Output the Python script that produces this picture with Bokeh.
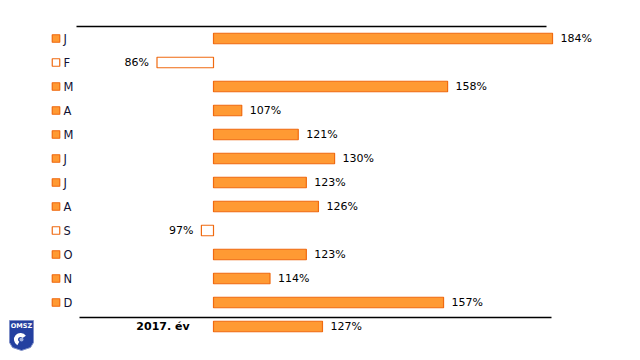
from bokeh.plotting import figure
from bokeh.models import Range1d, ColumnDataSource
from bokeh.core.properties import value
from bokeh.embed import file_html
from bokeh.resources import INLINE

# ---- data ----
months = ["J", "F", "M", "A", "M", "J", "J", "A", "S", "O", "N", "D"]
month_values = [184, 86, 158, 107, 121, 130, 123, 126, 97, 123, 114, 157]
year_label = "2017. év"
year_value = 127
base = 100

W, H = 624, 352
SCALE = 4.036          # px per percent
X100 = 213             # pixel of the 100% baseline
ROW0, ROWH = 38, 24    # pixel of first row, row spacing

x_start = base - X100 / SCALE
x_end = x_start + W / SCALE
y_bottom = (H - ROW0) / ROWH
y_top = -ROW0 / ROWH

def px(x):  # pixel -> data x
    return x_start + x / SCALE

def py(y):  # pixel -> data y
    return (y - ROW0) / ROWH

p = figure(width=W, height=H, output_backend="svg", toolbar_location=None,
           x_range=Range1d(x_start, x_end), y_range=Range1d(y_bottom, y_top),
           min_border=0, outline_line_color=None)
p.axis.visible = False
p.grid.visible = False
p.background_fill_color = "white"

labels = months + [year_label]
vals = month_values + [year_value]
rows = list(range(len(vals)))
ORANGE = "#FF9A33"
EDGE = "#F06A10"
fills = [ORANGE if v >= base else "white" for v in vals]

src = ColumnDataSource(dict(
    y=rows, v=vals, base=[base] * len(vals), fill=fills,
))
p.hbar(y="y", left="base", right="v", height=10.5 / ROWH, source=src,
       fill_color="fill", line_color=EDGE, line_width=1.2)

FONT = value("DejaVu Sans")
# value labels
up = [i for i, v in enumerate(vals) if v >= base]
dn = [i for i, v in enumerate(vals) if v < base]
p.text(x=[vals[i] for i in up], y=[rows[i] for i in up], text=[f"{vals[i]}%" for i in up],
       x_offset=8, text_align="left", text_baseline="middle",
       text_font=FONT, text_font_size="11px", text_color="black")
p.text(x=[vals[i] for i in dn], y=[rows[i] for i in dn], text=[f"{vals[i]}%" for i in dn],
       x_offset=-8, text_align="right", text_baseline="middle",
       text_font=FONT, text_font_size="11px", text_color="black")

# legend-like squares and month names
mrows = rows[:len(months)]
p.scatter(x=[px(55.5)] * len(months), y=mrows, marker="square", size=7.5,
          fill_color=fills[:len(months)], line_color=EDGE, line_width=1.2)
p.text(x=[px(63)] * len(months), y=mrows, text=months, text_align="left",
       text_baseline="middle", text_font=FONT,
       text_font_size="11.5px", text_color="#111133")
p.text(x=[px(162.5)], y=[rows[-1]], text=[year_label], text_align="center",
       text_baseline="middle", text_font=FONT,
       text_font_size="11px", text_font_style="bold", text_color="black")

# separator lines
p.segment(x0=[px(76)], y0=[py(26)], x1=[px(546)], y1=[py(26)], line_color="black", line_width=1.5)
p.segment(x0=[px(79)], y0=[py(317)], x1=[px(551)], y1=[py(317)], line_color="black", line_width=1.5)

# OMSZ logo (simplified shield)
sx = [9, 33, 33, 30, 21, 12, 9]
sy = [320, 320, 342, 347, 350, 347, 342]
p.patch(x=[px(a) for a in sx], y=[py(b) for b in sy], fill_color="#2440A0",
        line_color="#8090C8", line_width=1)
p.text(x=[px(21)], y=[py(325)], text=["OMSZ"], text_align="center", text_baseline="middle",
       text_font=FONT, text_font_size="6.5px", text_font_style="bold",
       text_color="white")
p.annular_wedge(x=[px(20)], y=[py(339)], inner_radius=2.5 / SCALE, outer_radius=6.5 / SCALE,
                start_angle=0.6, end_angle=4.2, fill_color="white", line_color=None)
p.circle(x=[px(21)], y=[py(339)], radius=2 / SCALE, fill_color="#9fb0e0", line_color=None)

open("out.html", "w").write(file_html(p, INLINE))
